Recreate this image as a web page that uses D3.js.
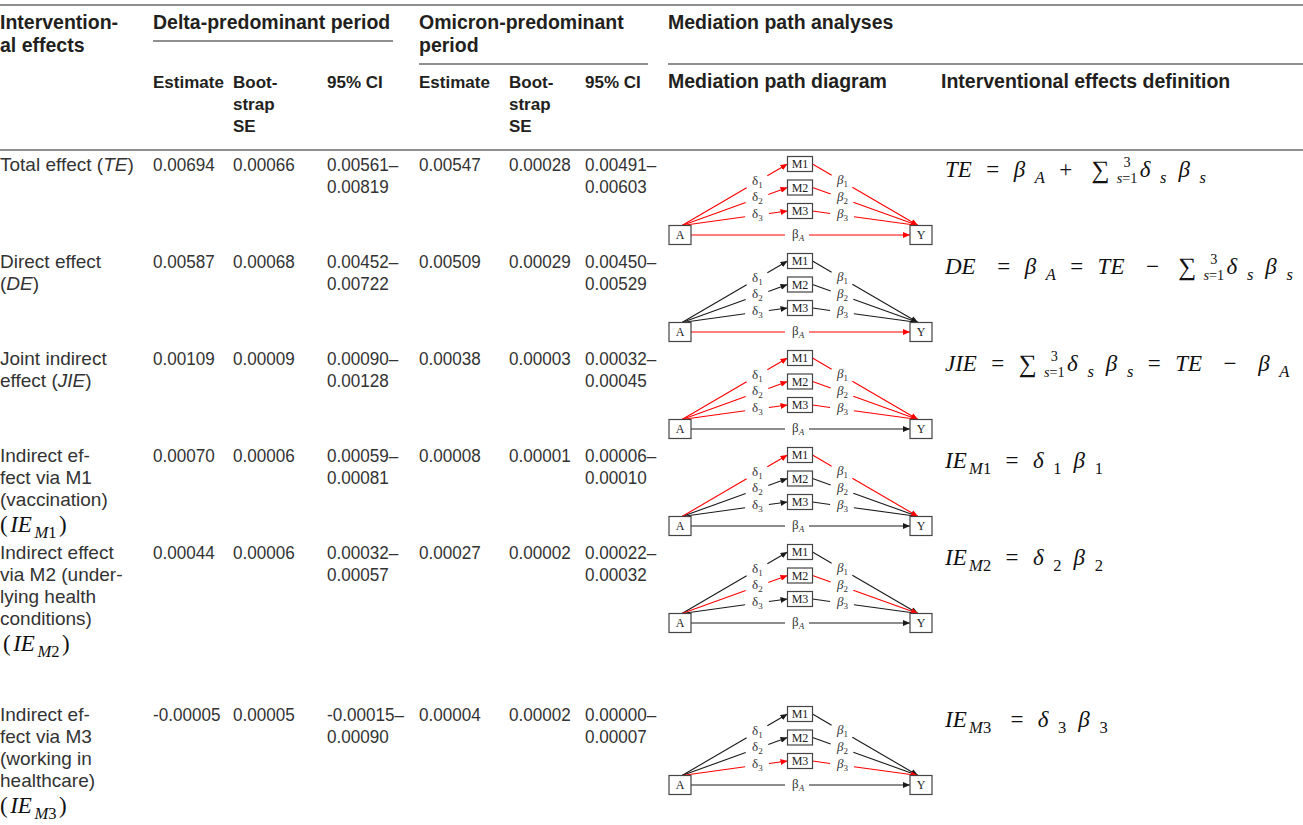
<!DOCTYPE html>
<html>
<head>
<meta charset="utf-8">
<script src="https://cdn.jsdelivr.net/npm/d3@7"></script>
<style>
  body { margin: 0; background: #fff; }
  svg { display: block; }
  .body { font-family: "Liberation Sans", Arial, sans-serif; font-size: 19px; fill: #333; }
  .num { font-family: "Liberation Sans", Arial, sans-serif; font-size: 19px; fill: #333; }
  .head { font-family: "Liberation Sans", Arial, sans-serif; font-weight: 700; font-size: 19.5px; fill: #231f20; }
  .subhead { font-family: "Liberation Sans", Arial, sans-serif; font-weight: 700; font-size: 17px; fill: #231f20; }
  .math { font-family: "Liberation Serif", "DejaVu Serif", serif; fill: #111; }
  .node text { font-family: "Liberation Serif", serif; font-size: 12px; fill: #222; }
  .elab { font-family: "Liberation Serif", serif; font-size: 13px; fill: #333; }
</style>
</head>
<body>
<svg id="chart" width="1303" height="825"></svg>
<script>
// ---- table data ----
const effectLabels = [
  ["Total effect (*TE*)"],
  ["Direct effect", "(*DE*)"],
  ["Joint indirect", "effect (*JIE*)"],
  ["Indirect ef-", "fect via M1", "(vaccination)"],
  ["Indirect effect", "via M2 (under-", "lying health", "conditions)"],
  ["Indirect ef-", "fect via M3", "(working in", "healthcare)"]
];
const effectMath = [null, null, null, "M1", "M2", "M3"];

const deltaEstimate = [0.00694, 0.00587, 0.00109, 0.00070, 0.00044, -0.00005];
const deltaSE = [0.00066, 0.00068, 0.00009, 0.00006, 0.00006, 0.00005];
const deltaCI = [[0.00561, 0.00819], [0.00452, 0.00722], [0.00090, 0.00128],
                 [0.00059, 0.00081], [0.00032, 0.00057], [-0.00015, 0.00090]];

const omicronEstimate = [0.00547, 0.00509, 0.00038, 0.00008, 0.00027, 0.00004];
const omicronSE = [0.00028, 0.00029, 0.00003, 0.00001, 0.00002, 0.00002];
const omicronCI = [[0.00491, 0.00603], [0.00450, 0.00529], [0.00032, 0.00045],
                   [0.00006, 0.00010], [0.00022, 0.00032], [0.00000, 0.00007]];

const mediators = ["M1", "M2", "M3"];
// which paths are highlighted in each row's diagram
const redPaths = [
  ["d1", "d2", "d3", "b1", "b2", "b3", "bA"],
  ["bA"],
  ["d1", "d2", "d3", "b1", "b2", "b3"],
  ["d1", "b1"],
  ["d2", "b2"],
  ["d3", "b3"]
];

const periodHeaders = [["Delta-predominant period"], ["Omicron-predominant", "period"]];
const subHeaders = [["Estimate"], ["Boot-", "strap", "SE"], ["95% CI"]];

// ---- math helpers (latex-ish formulas) ----
const m = (t, gap = 0) => ({t, gap});
const sub = (t, gap = 3) => ({t, gap, s: 0.72, dy: 6});
const sigma = (gap = 8) => [{t: "\u2211", gap, s: 1.1, dy: 1}, {stack: [["3", -10], ["s=1", 6]], gap: 3}];
const formulas = [
  [m("TE"), m("=", 6), m("\u03b2", 6), sub("A", 4), m("+", 6), ...sigma(8), m("\u03b4", 1), sub("s", 4), m("\u03b2", 5), sub("s", 4)],
  [m("DE"), m("=", 9), m("\u03b2", 6), sub("A", 4), m("=", 6), m("TE", 6), m("\u2212", 9), ...sigma(8), m("\u03b4", 1), sub("s", 4), m("\u03b2", 5), sub("s", 4)],
  [m("JIE"), m("=", 6), ...sigma(6), m("\u03b4", 1), sub("s", 4), m("\u03b2", 5), sub("s", 4), m("=", 6), m("TE", 6), m("\u2212", 9), m("\u03b2", 9), sub("A", 4)],
  [m("IE"), sub("M1", 1), m("=", 6), m("\u03b4", 6), sub("1", 4), m("\u03b2", 5), sub("1", 4)],
  [m("IE"), sub("M2", 1), m("=", 6), m("\u03b4", 6), sub("2", 4), m("\u03b2", 5), sub("2", 4)],
  [m("IE"), sub("M3", 1), m("=", 8), m("\u03b4", 6), sub("3", 4), m("\u03b2", 5), sub("3", 4)]
];

// ---- layout ----
const W = 1303, H = 825;
const ink = "#231f20";
const lineH = 22;
const rowHeights = [97, 97, 97, 97, 162, 125];
const headerBottom = 150;
const mathSize = 23;

const svg = d3.select("#chart");
const fmt = v => d3.format(".5f")(v).replace("\u2212", "-");

const colX = d3.scaleOrdinal()
  .domain(["effect", "dEst", "dSE", "dCI", "oEst", "oSE", "oCI", "diagram", "def"])
  .range([0, 153, 233, 327, 419, 509, 585, 668, 941]);

const rowTops = [headerBottom, ...d3.cumsum(rowHeights).map(h => headerBottom + h)];

// one <text> per formula; each run is a positioned tspan
function drawMath(g, tokens, size, gapScale) {
  const text = g.append("text").attr("class", "math");
  const run = (s, x, y, fs) => {
    let w = 0;
    s.match(/[A-Za-z\u03b1-\u03c9]+|[^A-Za-z\u03b1-\u03c9]+/g).forEach(r => {
      const ts = text.append("tspan").attr("x", x + w).attr("y", y)
        .style("font-size", fs + "px")
        .style("font-style", /[A-Za-z\u03b1-\u03c9]/.test(r) ? "italic" : "normal")
        .text(r);
      w += ts.node().getComputedTextLength();
    });
    return w;
  };
  let x = 0;
  tokens.forEach(tk => {
    x += (tk.gap || 0) * gapScale;
    if (tk.stack) {
      // measure first, then centre the limits over each other
      const fs = size * 0.62;
      const widths = tk.stack.map(([s]) => {
        const probe = g.append("text").attr("class", "math").style("font-size", fs + "px").text(s);
        const w = probe.node().getComputedTextLength();
        probe.remove();
        return w;
      });
      const w = d3.max(widths);
      tk.stack.forEach(([s, dy], i) => run(s, x + (w - widths[i]) / 2, dy, fs));
      x += w;
    } else {
      x += run(tk.t, x, tk.dy || 0, size * (tk.s || 1));
    }
  });
  return x;
}

function richText(sel, s) {
  s.split("*").forEach((part, i) => {
    if (part) sel.append("tspan").style("font-style", i % 2 ? "italic" : "normal").text(part);
  });
}

// multi-line text block: one <text>, one tspan per line
function textBlock(parent, cls, x, y, lines, dy) {
  const t = parent.append("text").attr("class", cls);
  lines.forEach((s, i) => richText(t.append("tspan").attr("x", x).attr("y", y + i * dy), s));
  return t;
}

// ---- rules ----
const rule = (x1, x2, y, w = 1) => svg.append("line")
  .attr("x1", x1).attr("x2", x2).attr("y1", y).attr("y2", y)
  .attr("stroke", ink).attr("stroke-width", w);
rule(0, W, 5, 1.2);
rule(colX("dEst"), 393, 41);
rule(colX("oEst"), 648, 64);
rule(colX("diagram"), W, 64);
rule(0, W, headerBottom, 1.2);

// ---- header text ----
textBlock(svg, "head", colX("effect"), 29, ["Intervention-", "al effects"], 23);
textBlock(svg, "head", colX("dEst"), 29, periodHeaders[0], 23);
textBlock(svg, "head", colX("oEst"), 29, periodHeaders[1], 23);
textBlock(svg, "head", colX("diagram"), 29, ["Mediation path analyses"], 23);
[["dEst", "dSE", "dCI"], ["oEst", "oSE", "oCI"]].forEach(cols => {
  cols.forEach((c, j) => textBlock(svg, "subhead", colX(c), 88, subHeaders[j], 22));
});
textBlock(svg, "head", colX("diagram"), 88, ["Mediation path diagram"], 22);
textBlock(svg, "head", colX("def"), 88, ["Interventional effects definition"], 22);

// ---- arrow markers ----
const defs = svg.append("defs");
[["red", "#ff0000"], ["black", "#1a1a1a"]].forEach(([id, c]) => {
  defs.append("marker").attr("id", "arrow-" + id)
    .attr("viewBox", "0 0 7 6").attr("refX", 7).attr("refY", 3)
    .attr("markerWidth", 7).attr("markerHeight", 6)
    .attr("markerUnits", "userSpaceOnUse").attr("orient", "auto")
    .append("path").attr("d", "M0,0L7,3L0,6Z").attr("fill", c);
});

// ---- mediation diagram ----
function drawDiagram(g, red) {
  const box = {w: 22, h: 19}, mbox = {w: 25, h: 15};
  const A = {x: 12, y: 64}, Y = {x: 253, y: 64};
  const mx = 132;
  const my = d3.scalePoint().domain(mediators).range([-7, 40]);

  const edges = [];
  mediators.forEach((med, i) => {
    edges.push({id: "d" + (i + 1), p0: [A.x + 2, A.y - box.h / 2], p1: [mx - mbox.w / 2, my(med)], lx: 89,
                lab: ["\u03b4", String(i + 1), false]});
    edges.push({id: "b" + (i + 1), p0: [mx + mbox.w / 2, my(med)], p1: [Y.x - 3, Y.y - box.h / 2], lx: 174,
                lab: ["\u03b2", String(i + 1), true]});
  });
  edges.push({id: "bA", p0: [A.x + box.w / 2, A.y], p1: [Y.x - box.w / 2, Y.y], lx: 129,
              lab: ["\u03b2", "A", false]});

  edges.forEach(e => { e.red = red.includes(e.id); });
  edges.sort((a, b) => a.red - b.red);

  edges.forEach(e => {
    const [x0, y0] = e.p0, [x1, y1] = e.p1;
    const t = (e.lx - x0) / (x1 - x0);
    const px = e.lx, py = y0 + t * (y1 - y0);
    const len = Math.hypot(x1 - x0, y1 - y0);
    const ux = (x1 - x0) / len, uy = (y1 - y0) / len;
    const gap = 12;
    const col = e.red ? "#ff0000" : "#1a1a1a";
    g.append("line").attr("x1", x0).attr("y1", y0).attr("x2", px - ux * gap).attr("y2", py - uy * gap)
      .attr("stroke", col).attr("stroke-width", 1.1);
    g.append("line").attr("x1", px + ux * gap).attr("y1", py + uy * gap).attr("x2", x1).attr("y2", y1)
      .attr("stroke", col).attr("stroke-width", 1.1)
      .attr("marker-end", `url(#arrow-${e.red ? "red" : "black"})`);
    e.px = px; e.py = py;
  });

  const nodes = [
    {name: "A", x: A.x, y: A.y, w: box.w, h: box.h},
    {name: "Y", x: Y.x, y: Y.y, w: box.w, h: box.h},
    ...mediators.map(med => ({name: med, x: mx, y: my(med), w: mbox.w, h: mbox.h}))
  ];
  const ng = g.append("g").attr("class", "node").selectAll("g").data(nodes).join("g");
  ng.append("rect")
    .attr("x", d => d.x - d.w / 2).attr("y", d => d.y - d.h / 2)
    .attr("width", d => d.w).attr("height", d => d.h)
    .attr("fill", "#fff").attr("stroke", "#444").attr("stroke-width", 1.2);
  ng.append("text").attr("x", d => d.x).attr("y", d => d.y + 4)
    .attr("text-anchor", "middle").text(d => d.name);

  // path coefficients, all in one text element
  const labels = g.append("text").attr("class", "elab");
  edges.forEach(e => {
    labels.append("tspan").attr("x", e.px - 5).attr("y", e.py + 3)
      .style("font-style", e.lab[2] ? "italic" : "normal").text(e.lab[0]);
    labels.append("tspan").attr("dy", 3).style("font-size", "9px")
      .style("font-style", e.lab[1] === "A" ? "italic" : "normal").text(e.lab[1]);
  });
}

// ---- body rows ----
effectLabels.forEach((lines, r) => {
  const base = rowTops[r] + 21;
  const row = svg.append("g");

  textBlock(row, "body", colX("effect"), base, lines, lineH);
  if (effectMath[r]) {
    const mg = row.append("g")
      .attr("transform", `translate(${colX("effect") + (r === 4 ? 3 : 0)},${base + lines.length * lineH + 4})`);
    drawMath(mg, [m("("), m("IE", 1), sub(effectMath[r], 1), m(")", 1)], 23, 2.5);
  }

  // numbers are set slightly condensed, like the source table
  const cell = (col, vals) => {
    const t = row.append("text").attr("class", "num")
      .attr("transform", `translate(${colX(col)},${base}) scale(0.9,1)`);
    vals.forEach((s, i) => t.append("tspan").attr("x", 0).attr("y", i * lineH).text(s));
  };
  cell("dEst", [fmt(deltaEstimate[r])]);
  cell("dSE", [fmt(deltaSE[r])]);
  cell("dCI", [fmt(deltaCI[r][0]) + "\u2013", fmt(deltaCI[r][1])]);
  cell("oEst", [fmt(omicronEstimate[r])]);
  cell("oSE", [fmt(omicronSE[r])]);
  cell("oCI", [fmt(omicronCI[r][0]) + "\u2013", fmt(omicronCI[r][1])]);

  drawDiagram(row.append("g").attr("transform", `translate(${colX("diagram")},${base})`), redPaths[r]);

  const fg = row.append("g").attr("transform", `translate(${colX("def") + 4},${base + 6})`);
  drawMath(fg, formulas[r], mathSize, 2.4);
});
</script>
</body>
</html>
